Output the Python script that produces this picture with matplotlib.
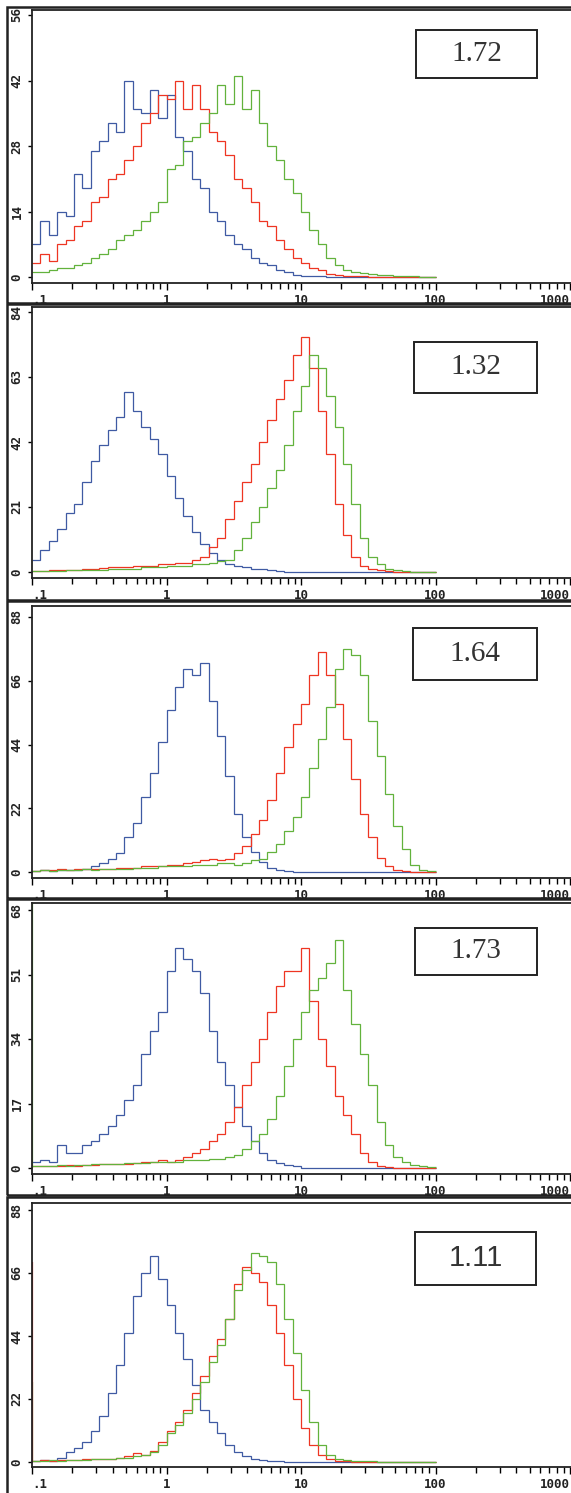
import numpy as np
import matplotlib.pyplot as plt
from matplotlib.patches import Rectangle
from matplotlib.ticker import LogLocator, NullFormatter

# channels: 16 per decade from .1 to 100
channel_edges = np.logspace(-1, 2, 49)

ratio_labels = ["1.72", "1.32", "1.64", "1.73", "1.11"]
ratio_fonts = ["Liberation Serif", "Liberation Serif", "Liberation Serif", "Liberation Serif", "Liberation Sans"]
y_max = [56, 84, 88, 68, 88]

blue_1 = [7, 12, 9, 14, 13, 22, 19, 27, 29, 33, 31, 42, 36, 35, 40, 34,
          39, 30, 27, 21, 19, 14, 12, 9, 7, 6, 4, 3, 2.5, 1.5, 1, 0.5,
          0.3, 0.2, 0.2, 0, 0, 0, 0, 0, 0, 0, 0, 0, 0, 0, 0, 0]
red_1 = [3, 5, 3.5, 7, 8, 11, 12, 16, 17, 21, 22, 25, 28, 33, 35, 39,
         38, 42, 36, 41, 36, 31, 29, 26, 21, 19, 16, 12, 11, 8, 6, 4,
         3, 2, 1.5, 0.7, 0.4, 0.3, 0.2, 0.2, 0, 0, 0, 0, 0, 0, 0, 0]
green_1 = [1, 1, 1.5, 2, 2, 2.5, 3, 4, 5, 6, 8, 9, 10, 12, 14, 16,
           23, 24, 29, 30, 33, 35, 41, 37, 43, 36, 40, 33, 28, 25, 21, 18,
           14, 10, 7, 4, 2.5, 1.5, 1, 0.8, 0.6, 0.5, 0.4, 0.3, 0.3, 0.2, 0, 0]

blue_2 = [4, 7, 10, 14, 19, 22, 29, 36, 41, 46, 50, 58, 52, 47, 43, 38,
          31, 24, 18, 13, 9, 6, 4, 2.5, 2, 1.5, 1, 1, 0.5, 0.3, 0, 0,
          0, 0, 0, 0, 0, 0, 0, 0, 0, 0, 0, 0, 0, 0, 0, 0]
red_2 = [0.3, 0.3, 0.5, 0.5, 0.8, 0.8, 1, 1, 1.2, 1.5, 1.5, 1.5, 2, 2, 2, 2.5,
         2.5, 3, 3, 4, 5, 8, 11, 17, 23, 29, 35, 42, 49, 56, 62, 70,
         76, 66, 52, 38, 22, 12, 5, 2, 1, 0.5, 0.3, 0, 0, 0, 0, 0]
green_2 = [0.2, 0.2, 0.3, 0.3, 0.5, 0.5, 0.5, 0.8, 0.8, 1, 1, 1, 1, 1.5, 1.5, 1.5,
           2, 2, 2, 2.5, 2.5, 3, 3.5, 4, 7, 11, 16, 21, 27, 33, 41, 52,
           60, 70, 66, 57, 47, 35, 22, 11, 5, 2.5, 1, 0.5, 0.2, 0, 0, 0]

blue_3 = [0.5, 0.6, 0.5, 0.8, 0.6, 0.8, 1, 2, 3, 4.5, 6.5, 12, 17, 26, 34, 45,
          56, 64, 70, 68, 72, 59, 47, 33, 20, 12, 7, 3.5, 1.5, 0.7, 0.3, 0,
          0, 0, 0, 0, 0, 0, 0, 0, 0, 0, 0, 0, 0, 0, 0, 0]
red_3 = [0.5, 0.8, 0.6, 1, 0.8, 1, 1, 1.2, 1, 1.2, 1.5, 1.5, 1.5, 2, 2, 2,
         2.5, 2.5, 3, 3.5, 4, 4.5, 4, 4.5, 6.5, 9, 13, 18, 25, 34, 43, 51,
         58, 68, 76, 68, 58, 46, 32, 20, 12, 5, 2, 0.8, 0.4, 0, 0, 0]
green_3 = [0.5, 0.6, 0.5, 0.8, 0.6, 0.8, 1, 0.8, 1, 1, 1.2, 1.2, 1.5, 1.5, 1.5, 2,
           2, 2, 2, 2.5, 2.5, 2.5, 3, 3, 2.5, 3, 4, 4.5, 7, 9.5, 14, 19,
           26, 36, 46, 57, 70, 77, 75, 68, 52, 40, 27, 16, 8, 2.5, 0.8, 0.3]

blue_4 = [1.5, 2, 1.5, 6, 4, 4, 6, 7, 9, 11, 14, 18, 22, 30, 36, 41,
          52, 58, 55, 52, 46, 36, 28, 22, 16, 11, 7, 4, 2, 1.2, 0.8, 0.4,
          0, 0, 0, 0, 0, 0, 0, 0, 0, 0, 0, 0, 0, 0, 0, 0]
red_4 = [0.5, 0.6, 0.5, 0.6, 0.8, 0.6, 0.8, 0.8, 1, 1, 1, 1, 1.2, 1.5, 1.5, 2,
         1.5, 2, 3, 4, 5, 7, 9, 12, 16, 22, 28, 34, 41, 48, 52, 52,
         58, 44, 34, 27, 19, 14, 9, 4, 1.5, 0.6, 0.2, 0, 0, 0, 0, 0]
green_4 = [0.5, 0.5, 0.6, 0.8, 0.6, 0.8, 0.8, 1, 1, 1, 1, 1.2, 1.2, 1.2, 1.5, 1.5,
           1.5, 1.5, 2, 2, 2, 2.5, 2.5, 3, 3.5, 5, 7, 9, 13, 19, 27, 34,
           41, 47, 50, 54, 60, 47, 38, 30, 22, 12, 6, 3, 1.5, 0.8, 0.5, 0.3]

blue_5 = [0.5, 0.6, 0.5, 1.5, 3.5, 5, 7, 11, 16, 24, 34, 45, 58, 66, 72, 64,
          55, 45, 36, 27, 18, 14, 10, 6, 3.5, 2, 1.2, 0.8, 0.5, 0.3, 0, 0,
          0, 0, 0, 0, 0, 0, 0, 0, 0, 0, 0, 0, 0, 0, 0, 0]
red_5 = [0.5, 0.6, 0.5, 0.6, 0.8, 0.8, 1, 1, 1.2, 1.2, 1.5, 2, 3, 2.5, 4, 7,
         11, 14, 18, 24, 30, 37, 43, 50, 62, 68, 66, 63, 55, 45, 34, 22,
         12, 6, 2.5, 1, 0.5, 0.2, 0, 0, 0, 0, 0, 0, 0, 0, 0, 0]
green_5 = [0.5, 0.5, 0.6, 0.5, 0.8, 0.6, 0.8, 1, 1, 1.2, 1.5, 1.5, 2, 2.5, 3.5, 6,
           10, 13, 17, 22, 28, 35, 41, 50, 60, 67, 73, 72, 70, 62, 50, 38,
           25, 14, 6, 2.5, 1.2, 0.6, 0.4, 0.3, 0.2, 0, 0, 0, 0, 0, 0, 0]

# off-scale counts piled in the first channel (drawn on the left edge)
red_edge = [0, 0, 0, 0, 70]
green_edge = [0, 0, 0, 70, 28]

blues = [blue_1, blue_2, blue_3, blue_4, blue_5]
reds = [red_1, red_2, red_3, red_4, red_5]
greens = [green_1, green_2, green_3, green_4, green_5]

x_ticks = [0.1, 1, 10, 100, 1000]
x_tick_labels = [".1", "1", "10", "100", "1000"]

BLUE = "#3f5aa3"
RED = "#ee3522"
GREEN = "#62b23c"
INK = "#222222"

W, H = 571, 1493
# pixel layout of each panel: outer frame top/bottom, axes top, label of y max, zero, x axis line
frame_top = [7, 304, 601, 899, 1197]
frame_bot = [303, 600, 898, 1195, 1500]
axes_top = [10, 307, 606, 903, 1203]
ymax_px = [15, 312, 617, 910, 1210]
zero_px = [277, 572, 872, 1168, 1462]
axis_px = [283, 578, 878, 1174, 1467]
box_px = [(416, 30, 537, 78), (414, 342, 537, 393), (413, 628, 537, 680),
          (415, 928, 537, 975), (415, 1232, 536, 1285)]

fig = plt.figure(figsize=(W / 100, H / 100), dpi=100)

ax_left = 32
decade_px = 134.5
x_right = 0.1 * 10 ** ((W - ax_left) / decade_px)

for i in range(5):
    # outer frame of the panel
    fig.add_artist(Rectangle((7 / W, 1 - frame_bot[i] / H), (W + 10 - 7) / W,
                             (frame_bot[i] - frame_top[i]) / H,
                             transform=fig.transFigure, fill=False,
                             edgecolor=INK, linewidth=1.8))

    ax = fig.add_axes([ax_left / W, 1 - axis_px[i] / H, (W - ax_left) / W,
                       (axis_px[i] - axes_top[i]) / H])
    scale = (zero_px[i] - ymax_px[i]) / y_max[i]
    ax.set_xscale("log")
    ax.set_xlim(0.1, x_right)
    ax.set_ylim(-(axis_px[i] - zero_px[i]) / scale,
                y_max[i] + (ymax_px[i] - axes_top[i]) / scale)

    ax.stairs(blues[i], channel_edges, color=BLUE, linewidth=0.9, baseline=None)
    ax.stairs(reds[i], channel_edges, color=RED, linewidth=0.9, baseline=None)
    ax.stairs(greens[i], channel_edges, color=GREEN, linewidth=0.9, baseline=None)
    if green_edge[i] > 0:
        ax.vlines(0.1, 0, green_edge[i], color=GREEN, linewidth=1.6)
    if red_edge[i] > 0:
        ax.vlines(0.1, 0, red_edge[i], color=RED, linewidth=1.6)

    ax.set_xticks(x_ticks)
    ax.set_xticklabels(x_tick_labels)
    ax.xaxis.set_minor_locator(LogLocator(base=10, subs=np.arange(2, 10)))
    ax.xaxis.set_minor_formatter(NullFormatter())
    step = y_max[i] // 4
    y_ticks = [0, step, 2 * step, 3 * step, 4 * step]
    ax.set_yticks(y_ticks)
    ax.set_yticklabels([str(v) for v in y_ticks], rotation=90, va="center")

    ax.tick_params(axis="x", which="major", direction="out", length=5, width=1,
                   pad=3, labelsize=9)
    ax.tick_params(axis="x", which="minor", direction="out", length=4, width=1)
    ax.tick_params(axis="y", direction="out", length=3, width=1, pad=3, labelsize=9)
    for lab in ax.get_xticklabels() + ax.get_yticklabels():
        lab.set_fontfamily("DejaVu Sans Mono")
        lab.set_fontweight("bold")
        lab.set_color(INK)
    xlabs = ax.get_xticklabels()
    xlabs[0].set_horizontalalignment("left")
    xlabs[-1].set_horizontalalignment("right")

    ax.spines["right"].set_visible(False)
    for s in ["left", "top", "bottom"]:
        ax.spines[s].set_linewidth(1.3)
        ax.spines[s].set_color(INK)
    ax.patch.set_alpha(0)

    x0, y0, x1, y1 = box_px[i]
    fig.add_artist(Rectangle((x0 / W, 1 - y1 / H), (x1 - x0) / W, (y1 - y0) / H,
                             transform=fig.transFigure, fill=False,
                             edgecolor=INK, linewidth=1.4))
    fig.text((x0 + x1) / 2 / W, 1 - (y0 + y1) / 2 / H, ratio_labels[i],
             ha="center", va="center", fontsize=21, color="#333333",
             family=ratio_fonts[i])

fig.savefig("out.png", dpi=100)
